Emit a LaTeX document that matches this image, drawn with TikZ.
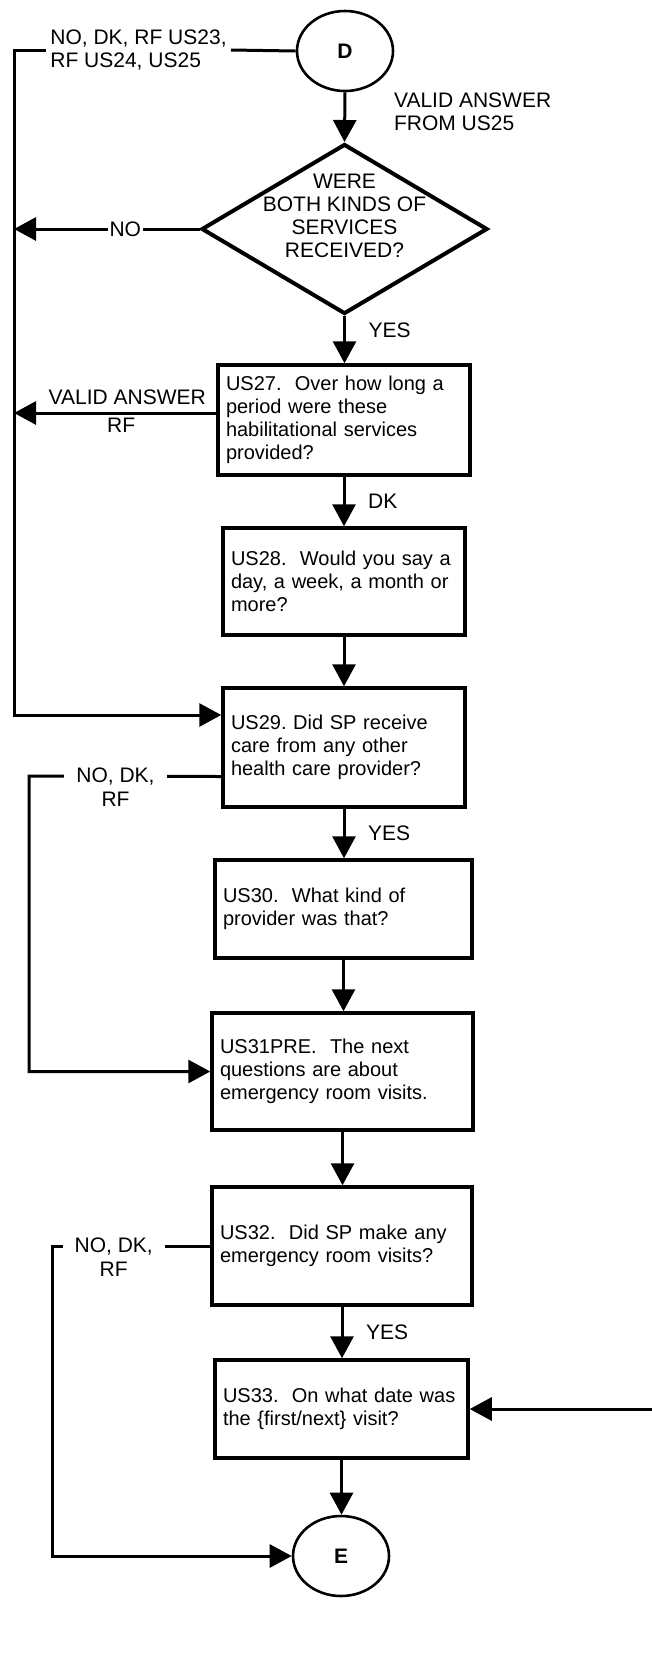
\documentclass[tikz,border=0pt]{standalone}
\usepackage{fontspec}
\setmainfont{Liberation Sans}
\usetikzlibrary{arrows.meta,shapes.geometric}
\begin{document}
\begin{tikzpicture}[x=0.5pt,y=-0.5pt,
  qbox/.style={draw,line width=1.75pt,align=left,inner xsep=4pt,inner ysep=0pt,font=\fontsize{10}{11.5}\selectfont},
  lbl/.style={font=\fontsize{10.5}{11.5}\selectfont},
  offpage/.style={ellipse,draw,line width=1.3pt,minimum width=48pt,minimum height=40pt,inner sep=0pt,font=\fontsize{10.5}{12}\selectfont\bfseries},
  conn/.style={line width=1.5pt},
  flow/.style={conn,-{Triangle[length=11pt,width=11.5pt]}}]
\useasboundingbox (0,0) rectangle (652,1667);
\node (D) [offpage] at (345,51) {D};
\node (Q) [diamond,draw,line width=2pt,minimum width=143pt,minimum height=85pt,inner sep=0pt] at (344.5,229) {};
\node (Qtext) [lbl,align=center] at (344.5,216) {WERE\\BOTH KINDS OF\\SERVICES\\RECEIVED?};
\node (US27) [qbox,text width=118pt,minimum height=55pt] at (344,420) {US27.\ \ Over how long a\\period were these\\habilitational services\\provided?};
\node (US28) [qbox,text width=113pt,minimum height=53.5pt] at (344,581.5) {US28.\ \ Would you say a\\day, a week, a month or\\more?};
\node (US29) [qbox,text width=113pt,minimum height=59.5pt] at (344,747.5) {US29.\ Did SP receive\\care from any other\\health care provider?};
\node (US30) [qbox,text width=120.5pt,minimum height=49pt] at (343.5,909) {US30.\ \ What kind of\\provider was that?};
\node (US31PRE) [qbox,text width=122.5pt,minimum height=58.5pt] at (342.5,1071.5) {US31PRE.\ \ The next\\questions are about\\emergency room visits.};
\node (US32) [qbox,text width=122pt,minimum height=59pt] at (342,1246) {US32.\ \ Did SP make any\\emergency room visits?};
\node (US33) [qbox,text width=118.5pt,minimum height=49pt] at (341.5,1409) {US33.\ \ On what date was\\the \{first/next\} visit?};
\node (E) [offpage] at (341,1556) {E};
\node (skipD) [lbl,align=left,anchor=west,inner xsep=2pt] at (46,50) {NO, DK, RF US23,\\RF US24, US25};
\node (validD) [lbl,align=left,anchor=west] at (387,112) {VALID ANSWER\\FROM US25};
\coordinate (loopA) at (14,50);
\coordinate (in29) at ([yshift=16.25pt]US29.west);
\coordinate (va) at ([yshift=3.5pt]US27.west);
\coordinate (nb) at ([yshift=-14.5pt]US29.west);
\coordinate (loopB) at (29,776);
\coordinate (loopC) at (52,1246);
\coordinate (fromright) at (652,1409);
\draw [conn] (D.west) -- (skipD.east);
\draw [flow] (skipD.west) -- (loopA) |- (in29);
\draw [flow] (D.south) -- (Q.north);
\draw [flow] (Q.west) -- node[lbl,fill=white,inner sep=1pt,pos=0.4] {NO} (Q.west -| loopA);
\draw [flow] (Q.south) -- node[lbl,right,xshift=8pt,pos=0.3] {YES} (Q.south |- US27.north);
\draw [flow] (va) -- node[lbl,above,pos=0.44] {VALID ANSWER} node[lbl,below,inner sep=2pt,pos=0.47] {RF} (va -| loopA);
\draw [flow] (US27.south) -- node[lbl,right,xshift=8pt] {DK} (US27.south |- US28.north);
\draw [flow] (US28.south) -- (US28.south |- US29.north);
\draw [flow] (nb) -- node[lbl,fill=white,inner xsep=6pt,inner ysep=1pt,pos=0.55,label={[lbl,inner sep=1pt]below:RF}] {NO, DK,} (loopB) |- (US31PRE.west);
\draw [flow] (US29.south) -- node[lbl,right,xshift=8pt] {YES} (US29.south |- US30.north);
\draw [flow] (US30.south) -- (US30.south |- US31PRE.north);
\draw [flow] (US31PRE.south) -- (US31PRE.south |- US32.north);
\draw [flow] (US32.west) -- node[lbl,fill=white,inner xsep=6pt,inner ysep=1pt,pos=0.61,label={[lbl,inner sep=1pt]below:RF}] {NO, DK,} (loopC) |- (E.west);
\draw [flow] (US32.south) -- node[lbl,right,xshift=8pt] {YES} (US32.south |- US33.north);
\draw [flow] (fromright) -- (US33.east);
\draw [flow] (US33.south) -- (US33.south |- E.north);
\end{tikzpicture}
\end{document}
